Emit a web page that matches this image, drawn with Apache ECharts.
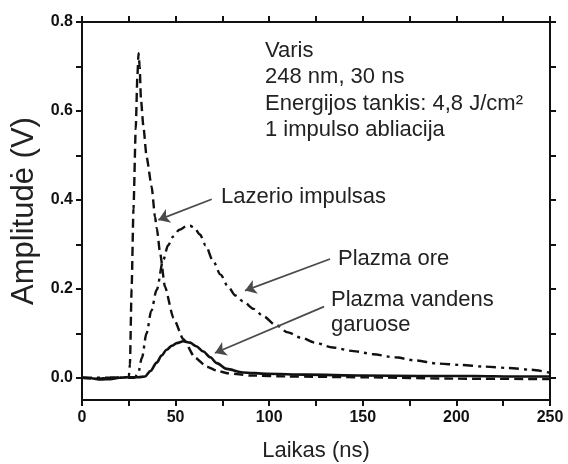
<!DOCTYPE html>
<html>
<head>
<meta charset="utf-8">
<style>html,body{margin:0;padding:0;background:#fff;}#c{width:568px;height:464px;}</style>
<script src="https://cdn.jsdelivr.net/npm/echarts@6/dist/echarts.min.js"></script>
</head>
<body>
<div id="c"></div>
<script>
// ---- data (time in ns, amplitude in V) ----
var laserPulse = [[0,0],[8,-0.002],[15,0],[22,0.001],[25,0.002],[25.6,0.03],[26.5,0.2],[27.5,0.38],[28.7,0.56],[29.6,0.68],[30.2,0.73],[30.8,0.70],[31.5,0.625],[32.8,0.565],[34.5,0.497],[37.2,0.43],[39,0.362],[40,0.335],[41.7,0.281],[44.3,0.205],[48.8,0.135],[54.1,0.087],[60.4,0.045],[66.6,0.025],[72,0.016],[78,0.01],[90,0.005],[110,0.003],[150,0.001],[200,-0.002],[250,-0.003]];
var plasmaAir = [[0,0],[20,0],[28,0],[30,0.01],[32,0.045],[34.5,0.1],[37,0.15],[39.9,0.198],[43.4,0.265],[46,0.298],[48.8,0.318],[52,0.333],[55.9,0.341],[57.7,0.342],[60,0.337],[63,0.322],[66,0.298],[70,0.263],[74,0.232],[78,0.205],[82,0.185],[86,0.172],[91.7,0.155],[97,0.138],[103,0.12],[110,0.102],[117,0.09],[124.5,0.079],[134,0.068],[145,0.06],[155.5,0.053],[167,0.046],[178,0.039],[190,0.032],[202,0.029],[215,0.025],[228,0.022],[240,0.018],[250,0.011]];
var plasmaVapor = [[0,0],[5,-0.001],[10,-0.004],[15,-0.003],[20,0],[25,0.001],[30,0.001],[33.7,0.003],[36.5,0.015],[39.9,0.034],[42.5,0.05],[45.2,0.063],[48,0.072],[50.6,0.078],[54.1,0.082],[57.7,0.079],[61,0.071],[64.8,0.059],[68.5,0.046],[72,0.033],[77.3,0.02],[86,0.012],[98.5,0.009],[120,0.007],[150,0.005],[180,0.004],[210,0.004],[230,0.003],[250,0.003]];
var xTickLabels = [0,50,100,150,200,250];
var yTickLabels = [0,0.2,0.4,0.6,0.8];
var yTicks = [0,0.1,0.2,0.3,0.4,0.5,0.6,0.7,0.8];
// annotation arrows: [from, to] in data coordinates
var arrowLaser = [[69.3,0.4016],[40.8,0.355]];
var arrowAir = [[132.5,0.267],[87.1,0.196]];
var arrowVapor = [[129.3,0.160],[71.0,0.0555]];
var infoLines = ['Varis','248 nm, 30 ns','Energijos tankis: 4,8 J/cm²','1 impulso abliacija'];

var FONT = '"Liberation Sans", Arial, sans-serif';
var chart = echarts.init(document.getElementById('c'), null, {renderer:'canvas'});

function xAx(pos, labels){
  return {
    type:'value', position:pos, min:0, max:250, interval:25,
    axisLine:{show:true, onZero:false, lineStyle:{color:'#111', width:2}},
    axisTick:{show:true, inside:false, length:6, lineStyle:{color:'#111', width:2}},
    axisLabel:{show:labels, color:'#111', fontFamily:FONT, fontWeight:'bold', fontSize:16, margin:10,
      formatter:function(v){return xTickLabels.indexOf(v) >= 0 ? String(v) : '';}},
    splitLine:{show:false},
    name: labels ? 'Laikas (ns)' : '', nameLocation:'middle', nameGap:40,
    nameTextStyle:{color:'#222', fontFamily:FONT, fontSize:22}
  };
}
function yAx(pos, labels){
  return {
    type:'value', position:pos, min:-0.05, max:0.8,
    axisLine:{show:true, onZero:false, lineStyle:{color:'#111', width:2}},
    axisTick:{show:true, inside:false, length:6, customValues:yTicks, lineStyle:{color:'#111', width:2}},
    axisLabel:{show:labels, customValues:yTickLabels, color:'#111', fontFamily:FONT, fontWeight:'bold', fontSize:16, margin:9,
      formatter:function(v){return v.toFixed(1);}},
    splitLine:{show:false},
    name: labels ? 'Amplitudė (V)' : '', nameLocation:'middle', nameGap:42,
    nameTextStyle:{color:'#222', fontFamily:FONT, fontSize:31}
  };
}
function arrowML(a){
  return {
    silent:true, symbol:['none','arrow'], symbolSize:11,
    lineStyle:{color:'#4a4a4a', width:1.7, type:'solid'},
    label:{show:false},
    data:[[{coord:a[0]},{coord:a[1]}]]
  };
}
var texts = [];
infoLines.forEach(function(t,i){
  texts.push({type:'text', left:265, top:[40,66,93,119][i], style:{text:t, fill:'#222', font:'22px '+FONT}});
});
texts.push({type:'text', left:221, top:186, style:{text:'Lazerio impulsas', fill:'#222', font:'22px '+FONT}});
texts.push({type:'text', left:338, top:248, style:{text:'Plazma ore', fill:'#222', font:'22px '+FONT}});
texts.push({type:'text', left:331, top:289, style:{text:'Plazma vandens', fill:'#222', font:'22px '+FONT}});
texts.push({type:'text', left:331, top:314, style:{text:'garuose', fill:'#222', font:'22px '+FONT}});

chart.setOption({
  animation:false,
  backgroundColor:'#fff',
  grid:{left:82, right:18, top:22, bottom:64, containLabel:false, outerBoundsMode:'none'},
  xAxis:[xAx('bottom', true), xAx('top', false)],
  yAxis:[yAx('left', true), yAx('right', false)],
  graphic: texts,
  series:[
    {type:'line', name:'Lazerio impulsas', data:laserPulse, showSymbol:false, smooth:0.2, smoothMonotone:'x',
      lineStyle:{color:'#111', width:2.4, type:[9,5]}, markLine:arrowML(arrowLaser), z:3},
    {type:'line', name:'Plazma ore', data:plasmaAir, showSymbol:false, smooth:0.3, smoothMonotone:'x',
      lineStyle:{color:'#111', width:2.4, type:[10,5,3,5]}, markLine:arrowML(arrowAir), z:3},
    {type:'line', name:'Plazma vandens garuose', data:plasmaVapor, showSymbol:false, smooth:0.3, smoothMonotone:'x',
      lineStyle:{color:'#111', width:2.6, type:'solid'}, markLine:arrowML(arrowVapor), z:4}
  ]
});
</script>
</body>
</html>
